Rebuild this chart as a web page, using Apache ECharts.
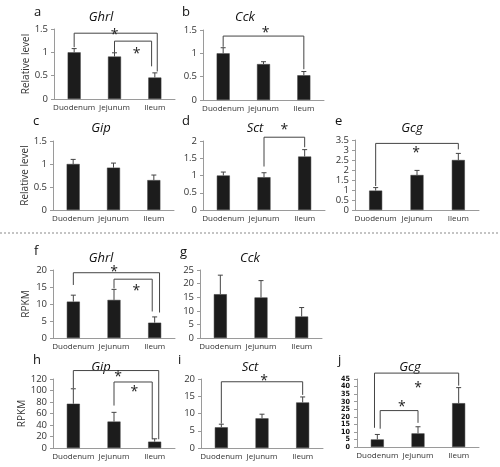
<!DOCTYPE html>
<html><head><meta charset="utf-8">
<script src="https://cdn.jsdelivr.net/npm/echarts@6/dist/echarts.min.js"></script>
<style>html,body{margin:0;padding:0;background:#fff}#c{width:500px;height:467px}</style>
</head><body><div id="c"></div>
<script>
// ---- data ----
const categories = ['Duodenum', 'Jejunum', 'Ileum'];
const panelLetters = ['a','b','c','d','e','f','g','h','i','j'];
const geneNames = ['Ghrl','Cck','Gip','Sct','Gcg','Ghrl','Cck','Gip','Sct','Gcg'];
const yAxisNames = ['Relative level','','Relative level','','','RPKM','','RPKM','',''];
const yMax = [1.5, 1.5, 1.5, 2, 3.5, 20, 25, 120, 20, 45];
const yInterval = [0.5, 0.5, 0.5, 0.5, 0.5, 5, 5, 20, 5, 5];

const meanA = [1.0, 0.91, 0.46];  const errA = [0.08, 0.08, 0.10];
const meanB = [1.0, 0.77, 0.53];  const errB = [0.12, 0.05, 0.08];
const meanC = [1.0, 0.92, 0.65];  const errC = [0.10, 0.10, 0.11];
const meanD = [1.0, 0.95, 1.55];  const errD = [0.10, 0.13, 0.20];
const meanE = [0.97, 1.75, 2.5];  const errE = [0.15, 0.23, 0.33];
const meanF = [10.7, 11.2, 4.5];  const errF = [1.9, 3.1, 1.7];
const meanG = [16.1, 14.9, 7.9];  const errG = [7.0, 6.2, 3.3];
const meanH = [77, 46, 11];       const errH = [26, 16, 5];
const meanI = [6.0, 8.6, 13.2];   const errI = [0.9, 1.2, 1.6];
const meanJ = [5, 9, 29];         const errJ = [3.3, 4.4, 10.3];

// significance brackets: [fromCat, fromValue, toCat, toValue, topValue, starCat, starValue]
const sigA = [[0, 1.11, 2.06, 0.59, 1.41, 1.0, 1.45], [1, 0.99, 1.92, 0.70, 1.24, 1.55, 1.04]];
const sigB = [[0, 1.14, 2, 0.66, 1.37, 1.05, 1.5]];
const sigC = [];
const sigD = [[1, 1.26, 2, 1.82, 2.11, 1.5, 2.43]];
const sigE = [[0, 1.2, 2, 3.03, 3.33, 0.98, 3.0]];
const sigF = [[0, 15.6, 2.12, 7.5, 19.2, 1.0, 20.5], [1, 14.6, 1.94, 7.8, 17.3, 1.55, 14.9]];
const sigG = [];
const sigH = [[0, 104, 2.1, 15.2, 134.7, 1.1, 129], [1, 73.8, 1.94, 15.2, 114.8, 1.5, 104]];
const sigI = [[0, 7.1, 2, 15.4, 19.2, 1.05, 20.5]];
const sigJ = [[-0.07, 12.7, 2, 40.6, 48.9, 1.0, 41.3], [0.07, 12.1, 1, 16, 24.1, 0.6, 28.8]];

const means = [meanA, meanB, meanC, meanD, meanE, meanF, meanG, meanH, meanI, meanJ];
const errs = [errA, errB, errC, errD, errE, errF, errG, errH, errI, errJ];
const sigs = [sigA, sigB, sigC, sigD, sigE, sigF, sigG, sigH, sigI, sigJ];

// ---- layout ----
const grids = [
  {left: 54, top: 29, width: 121, height: 70},
  {left: 203, top: 30, width: 121, height: 70},
  {left: 53, top: 141, width: 121, height: 69},
  {left: 203, top: 141, width: 122, height: 69},
  {left: 355, top: 140, width: 124, height: 70},
  {left: 53, top: 270, width: 122, height: 68},
  {left: 200, top: 270, width: 122, height: 68},
  {left: 53, top: 379, width: 122, height: 69},
  {left: 201, top: 379, width: 122, height: 69},
  {left: 357, top: 379, width: 122, height: 68}
];
const letterPos = [[39,15],[187,15],[38,124],[187,124],[340,124],[39,254],[185,255],[38,363],[183,363],[343,363]];
const titlePos = [[101,17],[245,17],[101,128],[255,128],[412,128],[101,258],[250,258],[101,367],[250,367],[410,367]];

const FONT = '"Open Sans", "Noto Sans", sans-serif';
const NARROW = '"DejaVu Sans Condensed", "Liberation Sans Narrow", sans-serif';
const chart = echarts.init(document.getElementById('c'), null, {renderer: 'canvas'});

function catX(api, c, v) {
  const p0 = api.coord([0, v]);
  const p1 = api.coord([1, v]);
  return [p0[0] + c * (p1[0] - p0[0]), p0[1]];
}

const option = {
  animation: false,
  backgroundColor: '#fff',
  grid: [], xAxis: [], yAxis: [], series: [], graphic: [],
  textStyle: {fontFamily: FONT}
};

for (let i = 0; i < 10; i++) {
  const narrow = i === 9;
  option.grid.push(Object.assign({containLabel: false}, grids[i]));
  option.xAxis.push({
    type: 'category', gridIndex: i, data: categories,
    axisLine: {lineStyle: {color: '#9a9a9a', width: 1}},
    axisTick: {show: false},
    axisLabel: {fontSize: 8, color: '#333', margin: 5, interval: 0, fontFamily: FONT}
  });
  const yLabel = {fontSize: 9.5, color: '#333', margin: 6, fontFamily: FONT,
    showMinLabel: true, showMaxLabel: true, hideOverlap: false};
  if (narrow) Object.assign(yLabel, {fontSize: 7.2, margin: 7, color: '#111', fontWeight: 'bold', fontFamily: NARROW});
  option.yAxis.push({
    type: 'value', gridIndex: i, min: 0, max: yMax[i], interval: yInterval[i],
    name: yAxisNames[i], nameLocation: 'middle', nameGap: 22,
    nameTextStyle: {fontSize: 10, color: '#333', fontFamily: FONT},
    axisLine: {show: true, lineStyle: {color: '#9a9a9a', width: 1}},
    axisTick: {show: true, length: 3, lineStyle: {color: '#9a9a9a'}},
    splitLine: {show: false},
    axisLabel: yLabel
  });
  option.series.push({
    type: 'bar', xAxisIndex: i, yAxisIndex: i, data: means[i], barWidth: 13,
    itemStyle: {color: '#1c1c1c', borderColor: '#3a3a3a', borderWidth: 0.5}, z: 2
  });
  option.series.push({
    type: 'custom', xAxisIndex: i, yAxisIndex: i, z: 3,
    data: means[i].map((m, k) => [k, m, errs[i][k]]),
    renderItem: (params, api) => {
      const x = api.value(0), m = api.value(1), e = api.value(2);
      const p0 = api.coord([x, m]);
      const p1 = api.coord([x, m + e]);
      return {type: 'group', children: [
        {type: 'line', shape: {x1: p0[0], y1: p0[1], x2: p1[0], y2: p1[1]}, style: {stroke: '#444', lineWidth: 1}},
        {type: 'line', shape: {x1: p1[0] - 2.5, y1: p1[1], x2: p1[0] + 2.5, y2: p1[1]}, style: {stroke: '#444', lineWidth: 1}}
      ]};
    }
  });
  if (sigs[i].length) {
    option.series.push({
      type: 'custom', xAxisIndex: i, yAxisIndex: i, z: 4, clip: false,
      data: sigs[i],
      renderItem: (params, api) => {
        const a = catX(api, api.value(0), api.value(1));
        const aTop = catX(api, api.value(0), api.value(4));
        const b = catX(api, api.value(2), api.value(3));
        const bTop = catX(api, api.value(2), api.value(4));
        const s = catX(api, api.value(5), api.value(6));
        return {type: 'group', children: [
          {type: 'polyline', shape: {points: [a, aTop, bTop, b]}, style: {stroke: '#444', lineWidth: 1, fill: null}},
          {type: 'text', style: {text: '*', x: s[0], y: s[1] + 3.5, align: 'center', verticalAlign: 'middle',
            fontSize: 14, fill: '#222', fontFamily: FONT}}
        ]};
      }
    });
  }
  option.graphic.push({type: 'text', left: letterPos[i][0] - 5, top: letterPos[i][1] - 9,
    style: {text: panelLetters[i], fontSize: 13, fill: '#111', fontFamily: FONT}});
  option.graphic.push({type: 'text', x: titlePos[i][0], y: titlePos[i][1],
    style: {text: geneNames[i], fontSize: 13, fontStyle: 'italic', fill: '#111', fontFamily: FONT,
      align: 'center', verticalAlign: 'middle'}});
}
option.graphic.push({type: 'line', shape: {x1: 0, y1: 233, x2: 500, y2: 233},
  style: {stroke: '#8a8a8a', lineWidth: 1, lineDash: [2, 2]}});

chart.setOption(option);
</script>
</body></html>
